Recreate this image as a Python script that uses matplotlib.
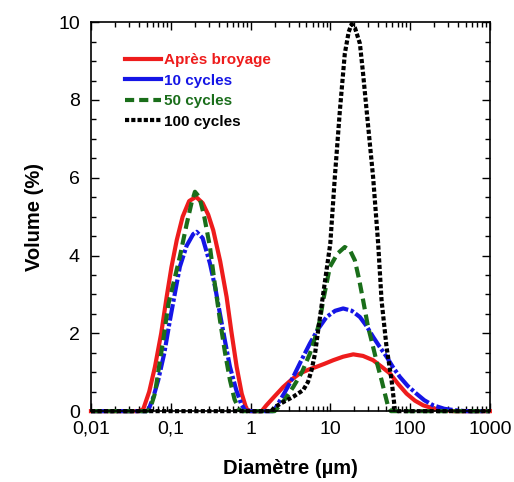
import numpy as np
import matplotlib.pyplot as plt
from matplotlib.lines import Line2D
from matplotlib.ticker import FixedLocator, LogLocator, NullFormatter

plt.rcParams['font.family'] = ['Liberation Sans', 'DejaVu Sans']

# diameters (um) and volume (%)
d_ref = [0.01, 0.0398, 0.0452, 0.0537, 0.0634, 0.0759, 0.0889, 0.102, 0.119, 0.141, 0.170,
         0.207, 0.251, 0.295, 0.341, 0.417, 0.501, 0.575, 0.670, 0.776, 0.891, 1.0,
         1.38, 1.58, 2.0, 2.57, 3.31, 4.16, 5.37, 6.73, 8.51, 10.9, 14.5, 19.4, 25.7,
         34.4, 44.7, 55.8, 70.8, 90.4, 115, 146, 195, 257, 355, 1000]
v_ref = [0, 0, 0.05, 0.5, 1.14, 2.0, 2.94, 3.7, 4.4, 5.0, 5.4,
         5.51, 5.35, 5.05, 4.65, 3.85, 2.94, 2.05, 1.14, 0.45, 0.05, 0,
         0, 0.15, 0.38, 0.62, 0.82, 0.97, 1.07, 1.14, 1.22, 1.31, 1.4, 1.46, 1.42,
         1.31, 1.13, 0.97, 0.7, 0.45, 0.27, 0.15, 0.07, 0.03, 0, 0]

d_10 = [0.01, 0.0501, 0.0525, 0.0603, 0.0697, 0.0832, 0.0977, 0.112, 0.130, 0.158, 0.191,
        0.211, 0.251, 0.310, 0.363, 0.414, 0.479, 0.552, 0.661, 0.759, 0.851, 1.0,
        1.91, 2.02, 2.63, 3.43, 4.37, 5.55, 7.08, 8.97, 11.5, 14.5, 18.6, 23.5, 28.2,
        34.4, 41.7, 50.7, 61.1, 74.5, 93.3, 120, 151, 195, 269, 380, 501, 1000]
v_10 = [0, 0, 0.03, 0.35, 0.8, 1.5, 2.34, 3.0, 3.71, 4.25, 4.55,
        4.61, 4.45, 3.8, 3.15, 2.5, 1.8, 1.14, 0.55, 0.2, 0.02, 0,
        0, 0.05, 0.45, 0.88, 1.32, 1.74, 2.12, 2.42, 2.58, 2.64, 2.58, 2.42, 2.2,
        1.91, 1.65, 1.4, 1.13, 0.88, 0.65, 0.45, 0.28, 0.15, 0.06, 0.02, 0, 0]

d_50 = [0.01, 0.0501, 0.0550, 0.0634, 0.0708, 0.0805, 0.0933, 0.110, 0.130, 0.158, 0.182,
        0.201, 0.229, 0.263, 0.310, 0.355, 0.414, 0.479, 0.552, 0.631, 0.724, 0.794,
        2.0, 2.12, 2.69, 3.43, 4.41, 5.55, 6.61, 7.41, 8.15, 9.89, 12.3, 15.2, 17.8,
        20.3, 22.9, 25.8, 29.5, 34.4, 38.9, 43.9, 49.0, 53.2, 57.5, 1000]
v_50 = [0, 0, 0.05, 0.46, 1.1, 1.83, 2.75, 3.35, 3.97, 4.8, 5.35,
        5.64, 5.5, 5.0, 4.22, 3.3, 2.34, 1.5, 0.8, 0.3, 0.03, 0,
        0, 0.05, 0.3, 0.62, 1.0, 1.48, 1.95, 2.34, 2.85, 3.71, 4.05, 4.22, 4.12,
        3.88, 3.4, 2.85, 2.2, 1.65, 1.2, 0.8, 0.4, 0.11, 0, 0]

d_100 = [0.01, 1.82, 2.0, 2.51, 3.43, 4.57, 5.25, 5.82, 6.46, 7.05, 7.94, 10.0, 11.4,
         13.2, 15.2, 17.0, 18.5, 20.4, 23.5, 25.7, 28.5, 34.4, 39.8, 43.9, 50.7, 58.6,
         64.6, 70.8, 1000]
v_100 = [0, 0, 0.1, 0.22, 0.37, 0.54, 0.75, 1.05, 1.5, 2.08, 2.85, 4.31, 6.02,
         7.74, 9.19, 9.75, 9.95, 9.85, 9.45, 8.7, 7.74, 6.02, 4.31, 2.85, 1.65, 0.8,
         0.03, 0, 0]

labels = ['Après broyage', '10 cycles', '50 cycles', '100 cycles']
colors = ['#ee1c1c', '#1515e6', '#1a6e1a', '#000000']

fig = plt.figure(figsize=(5.14, 4.82), dpi=100)
ax = fig.add_axes([0.177, 0.147, 0.776, 0.807])

lw = 3
ax.plot(d_ref, v_ref, color=colors[0], lw=lw, clip_on=False)
ax.plot(d_10, v_10, color=colors[1], lw=lw, ls=(0, (4, 0.6, 0.8, 0.6)), clip_on=False)
ax.plot(d_50, v_50, color=colors[2], lw=lw, ls=(0, (2.6, 1.3)), clip_on=False)
ax.plot(d_100, v_100, color=colors[3], lw=lw, ls=(0, (1, 0.55)), clip_on=False)

ax.set_xscale('log')
ax.set_xlim(0.01, 1000)
ax.set_ylim(0, 10)
ax.set_xticks([0.01, 0.1, 1, 10, 100, 1000])
ax.set_xticklabels(['0,01', '0,1', '1', '10', '100', '1000'])
ax.xaxis.set_minor_locator(LogLocator(base=10, subs=np.arange(2, 10)))
ax.xaxis.set_minor_formatter(NullFormatter())
ax.set_yticks([0, 2, 4, 6, 8, 10])
ax.yaxis.set_minor_locator(FixedLocator(np.arange(0, 10.01, 0.5)))

ax.tick_params(which='both', direction='in', top=True, right=True, labelsize=14, width=1)
ax.tick_params(which='major', length=6)
ax.tick_params(axis='x', which='major', pad=7)
ax.tick_params(axis='y', which='major', pad=8)
ax.tick_params(which='minor', length=3.5)
for s in ax.spines.values():
    s.set_linewidth(1.2)

ax.set_xlabel('Diamètre (µm)', fontsize=14.5, fontweight='bold', labelpad=15)
ax.set_ylabel('Volume (%)', fontsize=14.5, fontweight='bold', labelpad=10)

# legend keys drawn like the reference (blue key is solid there)
handles = [Line2D([], [], color=colors[0], lw=lw),
           Line2D([], [], color=colors[1], lw=lw),
           Line2D([], [], color=colors[2], lw=lw, ls=(0, (2.2, 1.2))),
           Line2D([], [], color=colors[3], lw=lw, ls=(0, (1, 0.5)))]
leg = ax.legend(handles, labels, loc='upper left', bbox_to_anchor=(0.05, 0.955), frameon=False,
                handlelength=2.4, handletextpad=0.2, labelspacing=0.42,
                prop={'weight': 'bold', 'size': 11})
for t, c in zip(leg.get_texts(), colors):
    t.set_color(c)

fig.savefig('out.png', dpi=100)
